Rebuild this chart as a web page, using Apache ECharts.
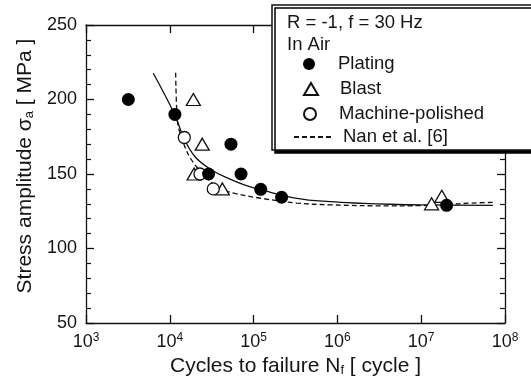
<!DOCTYPE html>
<html>
<head>
<meta charset="utf-8">
<script src="https://cdn.jsdelivr.net/npm/echarts@6/dist/echarts.min.js"></script>
<style>
  html, body { margin: 0; padding: 0; background: #fff; }
  #chart { width: 531px; height: 390px; }
</style>
</head>
<body>
<div id="chart"></div>
<script>
// ---- data (cycles to failure, stress amplitude MPa) ----
var platingData = [[3200, 200], [11500, 190], [29000, 150], [53700, 170], [70800, 150], [121600, 139.7], [216000, 134.4], [20100000, 129]];
var blastData = [[19100, 200], [24400, 170], [19500, 150], [42400, 140], [13300000, 130], [17600000, 135]];
var polishedData = [[14900, 174.5], [22900, 150], [33000, 140]];
var fitCurve = [[6350, 217.6], [11500, 189.6], [14500, 175], [20000, 161.6], [31600, 152.7], [49900, 147.1], [78900, 142.6], [125000, 139.3], [327000, 133.7], [817000, 131.4], [2040000, 130.3], [4250000, 129.7], [10000000, 129.3], [72000000, 129]];
var nanCurve = [[11750, 218], [12080, 193], [12620, 182], [15200, 168], [18200, 159.4], [25000, 150], [38000, 141], [60000, 137], [130000, 133.5], [327000, 130.5], [817000, 129.3], [4250000, 128.6], [10000000, 128.8], [20000000, 129.5], [40000000, 130.5], [75000000, 131]];
var yTicks = [50, 100, 150, 200, 250];
var xExpMin = 3, xExpMax = 8;
var legendTitle1 = 'R = -1, f = 30 Hz';
var legendTitle2 = 'In Air';

var FONT = 'Liberation Sans, Arial, Helvetica, sans-serif';
var TXT = '#151515';

var chart = echarts.init(document.getElementById('chart'), null, { renderer: 'canvas' });

var axisLine = { show: true, lineStyle: { color: '#111', width: 1.3 } };
var legendText = { fontFamily: FONT, fontSize: 18.5, color: TXT, lineHeight: 20 };

function markerLegend(name, top) {
  return {
    z: 20, orient: 'vertical', left: 298, top: top,
    itemWidth: 14, itemHeight: 12,
    data: [name],
    textStyle: Object.assign({ padding: [0, 0, 0, 17] }, legendText),
    selectedMode: false
  };
}

var option = {
  animation: false,
  backgroundColor: '#fff',
  grid: { left: 86, right: 26, top: 25, bottom: 67 },
  xAxis: [{
    type: 'log', logBase: 10,
    min: Math.pow(10, xExpMin), max: Math.pow(10, xExpMax), interval: 1,
    position: 'bottom',
    name: 'Cycles to failure N{sub|f} [ cycle ]',
    nameLocation: 'middle', nameGap: 26,
    nameTextStyle: { fontFamily: FONT, fontSize: 21, color: TXT,
      rich: { sub: { fontFamily: FONT, fontSize: 13, color: TXT, verticalAlign: 'bottom', padding: [9, 0, 0, 0] } } },
    axisLine: axisLine,
    axisTick: { show: true, inside: true, length: 8, lineStyle: { color: '#111', width: 1.3 } },
    minorTick: { show: false },
    splitLine: { show: false },
    axisLabel: {
      margin: 9, fontFamily: FONT, fontSize: 18, color: TXT,
      formatter: function (v) { return '10{sup|' + Math.round(Math.log10(v)) + '}'; },
      rich: { sup: { fontFamily: FONT, fontSize: 12, color: TXT, verticalAlign: 'top', padding: [0, 0, 8, 0] } }
    }
  }, {
    type: 'log', logBase: 10,
    min: Math.pow(10, xExpMin), max: Math.pow(10, xExpMax), interval: 1,
    position: 'top',
    axisLine: axisLine,
    axisTick: { show: true, inside: true, length: 8, lineStyle: { color: '#111', width: 1.3 } },
    axisLabel: { show: false },
    splitLine: { show: false }
  }],
  yAxis: [{
    type: 'value', min: yTicks[0], max: yTicks[yTicks.length - 1], interval: 50,
    position: 'left',
    name: 'Stress amplitude σ{sub|a} [ MPa ]',
    nameLocation: 'middle', nameGap: 50,
    nameTextStyle: { fontFamily: FONT, fontSize: 21, color: TXT, padding: [0, 0, 0, 16],
      rich: { sub: { fontFamily: FONT, fontSize: 13, color: TXT, verticalAlign: 'bottom', padding: [9, 0, 0, 0] } } },
    axisLine: axisLine,
    axisTick: { show: true, inside: true, length: 8, lineStyle: { color: '#111', width: 1.3 } },
    minorTick: { show: true, splitNumber: 5, length: 5, lineStyle: { color: '#111', width: 1.2 } },
    splitLine: { show: false },
    axisLabel: { margin: 9, fontFamily: FONT, fontSize: 18, color: TXT }
  }, {
    type: 'value', min: yTicks[0], max: yTicks[yTicks.length - 1], interval: 50,
    position: 'right',
    axisLine: axisLine,
    axisTick: { show: true, inside: true, length: 8, lineStyle: { color: '#111', width: 1.3 } },
    minorTick: { show: true, splitNumber: 5, length: 5, lineStyle: { color: '#111', width: 1.2 } },
    splitLine: { show: false },
    axisLabel: { show: false }
  }],
  legend: [
    markerLegend('Plating', 49),
    markerLegend('Blast', 74),
    markerLegend('Machine-polished', 99),
    {
      z: 20, orient: 'vertical', left: 288, top: 122,
      itemWidth: 40, itemHeight: 12,
      data: ['Nan et al. [6]'],
      itemStyle: { opacity: 0 },
      textStyle: Object.assign({ padding: [0, 0, 0, 4] }, legendText),
      selectedMode: false
    }
  ],
  graphic: [{
    type: 'rect', z: 10,
    shape: { x: 272, y: 5, width: 300, height: 145 },
    style: { fill: '#fff', stroke: '#111', lineWidth: 1.5, shadowColor: '#000', shadowOffsetX: 3, shadowOffsetY: 3, shadowBlur: 0 }
  }, {
    type: 'text', z: 21, left: 287, top: 13,
    style: { text: legendTitle1, fontFamily: FONT, fontSize: 18.5, fill: TXT }
  }, {
    type: 'text', z: 21, left: 287, top: 35,
    style: { text: legendTitle2, fontFamily: FONT, fontSize: 18.5, fill: TXT }
  }],
  series: [{
    name: 'Fit', type: 'line', data: fitCurve, smooth: 0.4, symbol: 'none',
    lineStyle: { color: '#111', width: 1.3 }, z: 2
  }, {
    name: 'Nan et al. [6]', type: 'line', data: nanCurve, smooth: 0.4, symbol: 'none',
    itemStyle: { color: '#111' },
    lineStyle: { color: '#111', width: 1.3, type: [5, 3] }, z: 2
  }, {
    name: 'Blast', type: 'scatter', data: blastData, symbol: 'triangle', symbolSize: [14, 12],
    itemStyle: { color: '#fff', borderColor: '#111', borderWidth: 1.3, opacity: 1 }, z: 3
  }, {
    name: 'Machine-polished', type: 'scatter', data: polishedData, symbol: 'circle', symbolSize: 12,
    itemStyle: { color: '#fff', borderColor: '#111', borderWidth: 1.3, opacity: 1 }, z: 4
  }, {
    name: 'Plating', type: 'scatter', data: platingData, symbol: 'circle', symbolSize: 13,
    itemStyle: { color: '#000', opacity: 1 }, z: 5
  }]
};
chart.setOption(option);
</script>
</body>
</html>
